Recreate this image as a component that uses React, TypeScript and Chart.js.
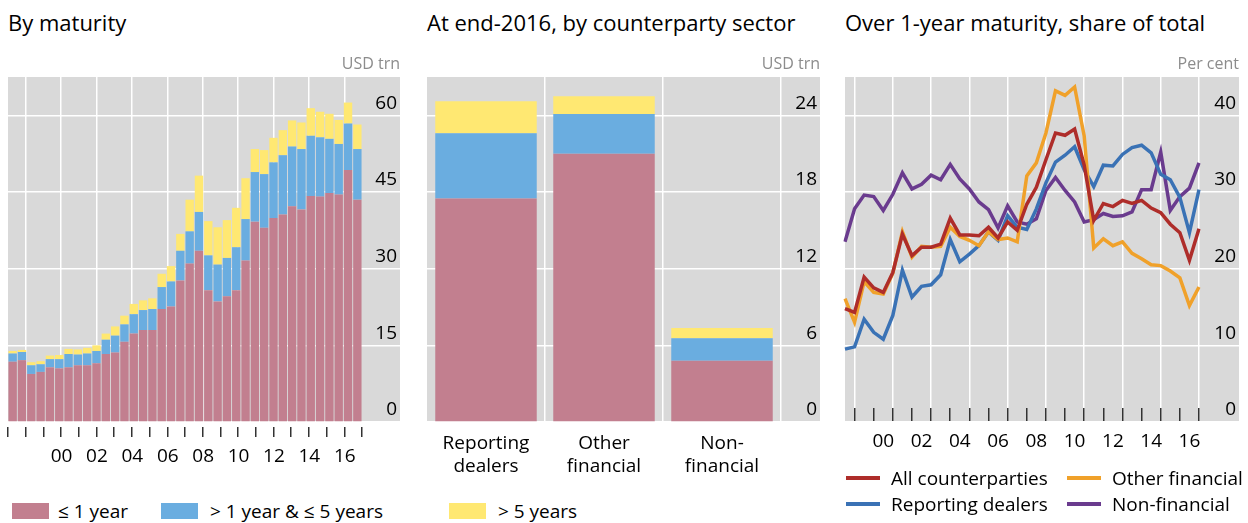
import React, { useEffect, useRef } from 'react';
import { Chart, registerables } from 'chart.js';

Chart.register(...registerables);

const FONT = "'Open Sans', 'Noto Sans', sans-serif";
Chart.defaults.font.family = FONT;

// ---------- data ----------
const periods = [
  'Jun-98', 'Dec-98', 'Jun-99', 'Dec-99', 'Jun-00', 'Dec-00', 'Jun-01', 'Dec-01',
  'Jun-02', 'Dec-02', 'Jun-03', 'Dec-03', 'Jun-04', 'Dec-04', 'Jun-05', 'Dec-05',
  'Jun-06', 'Dec-06', 'Jun-07', 'Dec-07', 'Jun-08', 'Dec-08', 'Jun-09', 'Dec-09',
  'Jun-10', 'Dec-10', 'Jun-11', 'Dec-11', 'Jun-12', 'Dec-12', 'Jun-13', 'Dec-13',
  'Jun-14', 'Dec-14', 'Jun-15', 'Dec-15', 'Jun-16', 'Dec-16',
];

const maturityUpTo1Y = [
  11.8, 12.1, 9.4, 9.8, 10.7, 10.5, 10.7, 11.1, 11.1, 11.5, 13.3, 13.6, 15.7, 17.3, 18.0, 18.0,
  22.1, 22.6, 27.7, 31.0, 33.5, 25.8, 23.6, 24.6, 25.8, 31.6, 39.2, 38.0, 39.9, 40.6, 42.2, 41.6,
  44.2, 44.1, 44.8, 44.5, 49.3, 43.5,
];
const maturity1to5Y = [
  1.6, 1.6, 1.7, 1.5, 1.6, 1.8, 2.6, 2.1, 2.3, 2.4, 2.8, 3.3, 3.4, 3.8, 3.9, 4.1,
  4.3, 4.9, 5.8, 6.3, 7.6, 6.8, 7.2, 7.5, 8.4, 8.1, 9.7, 10.5, 10.9, 11.6, 11.7, 11.8,
  11.8, 11.6, 10.6, 9.9, 9.1, 9.9,
];
const maturityOver5Y = [
  0.5, 0.4, 0.6, 0.6, 0.7, 0.8, 1.0, 1.0, 1.1, 1.1, 1.2, 1.8, 1.7, 2.0, 1.9, 2.1,
  2.6, 3.0, 3.3, 6.2, 7.1, 6.7, 7.3, 7.4, 7.7, 8.0, 4.5, 4.7, 4.8, 4.9, 5.1, 5.2,
  5.4, 5.0, 4.9, 4.7, 4.1, 4.8,
];

const sectors = [['Reporting', 'dealers'], ['Other', 'financial'], ['Non-', 'financial']];
const sectorUpTo1Y = [17.5, 21.0, 4.8];
const sector1to5Y = [5.1, 3.1, 1.75];
const sectorOver5Y = [2.5, 1.4, 0.8];

const shareAll = [
  14.8, 14.3, 18.9, 17.5, 16.9, 19.5, 24.5, 21.7, 22.8, 22.8, 23.2, 26.6, 24.4, 24.4, 24.3, 25.4,
  24.0, 26.1, 25.0, 28.4, 30.6, 34.2, 37.7, 37.4, 38.2, 33.5, 26.3, 28.5, 28.1, 28.9, 28.5, 28.9,
  27.9, 27.3, 25.8, 24.7, 21.1, 25.2,
];
const shareOtherFin = [
  16.1, 13.0, 18.3, 16.9, 16.7, 19.4, 24.8, 21.5, 22.9, 22.8, 22.9, 25.4, 24.2, 23.7, 23.0, 24.8,
  23.8, 24.0, 23.5, 32.1, 33.8, 37.7, 43.2, 42.6, 43.7, 37.3, 22.7, 23.9, 23.0, 23.5, 22.0, 21.3,
  20.5, 20.4, 19.7, 18.8, 15.2, 17.6,
];
const shareDealers = [
  9.5, 9.8, 13.4, 11.7, 10.8, 13.9, 19.8, 16.3, 17.7, 17.9, 19.2, 23.8, 20.9, 21.9, 23.0, 24.8,
  23.7, 26.9, 25.4, 25.1, 27.8, 31.2, 33.9, 34.8, 35.9, 32.9, 30.7, 33.5, 33.4, 34.9, 35.8, 36.1,
  35.1, 32.3, 31.6, 29.3, 24.7, 30.3,
];
const shareNonFin = [
  23.5, 27.8, 29.6, 29.4, 27.6, 29.7, 32.5, 30.4, 31.0, 32.2, 31.6, 33.6, 31.7, 30.4, 28.7, 27.7,
  25.3, 28.2, 26.1, 25.8, 26.5, 30.2, 31.9, 30.2, 28.7, 26.1, 26.4, 27.2, 26.8, 26.9, 27.4, 30.3,
  30.3, 35.2, 27.6, 29.4, 30.5, 33.8,
];

const yearTicks = [
  1998, 1999, 2000, 2001, 2002, 2003, 2004, 2005, 2006, 2007,
  2008, 2009, 2010, 2011, 2012, 2013, 2014, 2015, 2016, 2017,
];
const labelYears = [2000, 2002, 2004, 2006, 2008, 2010, 2012, 2014, 2016];
const ticksByMaturity = [0, 15, 30, 45, 60];
const ticksBySector = [0, 6, 12, 18, 24];
const ticksShare = [0, 10, 20, 30, 40];

// ---------- styles ----------
const PINK = '#C27F8F';
const LBLUE = '#6AADE0';
const YELLOW = '#FFE872';
const GREY = '#D9D9D9';
const RED = '#AE2D2A';
const ORANGE = '#F0A12A';
const DBLUE = '#3A72B5';
const PURPLE = '#6A3B8E';
const TICK_FONT = { size: 19, family: FONT };
const X_AXIS_H = 68;

const greyBg = {
  id: 'greyBg',
  beforeDraw(chart: any) {
    const { ctx, chartArea } = chart;
    const y = chart.scales.y;
    ctx.save();
    ctx.fillStyle = GREY;
    ctx.fillRect(chartArea.left, chartArea.top, y.right - chartArea.left, chartArea.bottom - chartArea.top);
    ctx.restore();
  },
};

const zeroPad = (s: any) => {
  s.paddingTop = 0;
  s.paddingBottom = 0;
  s.paddingLeft = 0;
  s.paddingRight = 0;
};

function valueAxis(max: number, ticks: number[], width: number, stacked: boolean) {
  return {
    position: 'right',
    min: 0,
    max,
    stacked,
    afterBuildTicks: (s: any) => { s.ticks = ticks.map((v) => ({ value: v })); },
    afterFit: (s: any) => { s.width = width; zeroPad(s); },
    border: { display: false },
    grid: { color: '#fff', lineWidth: 1.5, drawTicks: true, tickLength: width, tickColor: '#fff', tickWidth: 1.5 },
    ticks: { mirror: true, padding: width - 3, labelOffset: -12, color: '#000', font: TICK_FONT },
  };
}

function yearAxis(min: number, max: number, tickLength: number, padding: number, labelOffset: number, dash: number[]) {
  return {
    type: 'linear',
    position: 'bottom',
    min,
    max,
    afterBuildTicks: (s: any) => { s.ticks = yearTicks.filter((v) => v >= min && v <= max).map((v) => ({ value: v })); },
    afterFit: (s: any) => { s.height = X_AXIS_H; zeroPad(s); },
    border: { display: false },
    grid: {
      color: (c: any) => (c.tick && c.tick.value % 2 === 1 ? '#fff' : 'rgba(0,0,0,0)'),
      lineWidth: 1.5,
      drawTicks: true,
      tickLength,
      tickColor: '#333',
      tickWidth: 1.5,
      tickBorderDash: dash,
    },
    ticks: {
      autoSkip: false,
      maxRotation: 0,
      padding,
      labelOffset,
      color: '#000',
      font: TICK_FONT,
      callback: (v: any) => (labelYears.includes(v) ? String(v).slice(2) : ''),
    },
  };
}

const common = {
  animation: false,
  responsive: false,
  devicePixelRatio: 1,
  plugins: { legend: { display: false }, tooltip: { enabled: false } },
};

const configMaturity: any = {
  type: 'bar',
  data: {
    labels: periods,
    datasets: [
      { label: '≤ 1 year', data: maturityUpTo1Y, backgroundColor: PINK },
      { label: '> 1 year & ≤ 5 years', data: maturity1to5Y, backgroundColor: LBLUE },
      { label: '> 5 years', data: maturityOver5Y, backgroundColor: YELLOW },
    ],
  },
  options: {
    ...common,
    layout: { padding: { left: 8, top: 7, right: 12, bottom: 0 } },
    datasets: { bar: { barPercentage: 0.9, categoryPercentage: 1 } },
    scales: {
      x: { type: 'category', stacked: true, display: false, offset: true },
      x2: yearAxis(1998, 2017, 15, 8, 9.32, [0, 5, 10, 100]),
      y: valueAxis(67.5, ticksByMaturity, 38, true),
    },
  },
  plugins: [greyBg],
};

const configSector: any = {
  type: 'bar',
  data: {
    labels: sectors,
    datasets: [
      { label: '≤ 1 year', data: sectorUpTo1Y, backgroundColor: PINK },
      { label: '> 1 year & ≤ 5 years', data: sector1to5Y, backgroundColor: LBLUE },
      { label: '> 5 years', data: sectorOver5Y, backgroundColor: YELLOW },
    ],
  },
  options: {
    ...common,
    layout: { padding: { left: 7, top: 7, right: 12, bottom: 0 } },
    datasets: { bar: { barPercentage: 0.86, categoryPercentage: 1 } },
    scales: {
      x: {
        type: 'category',
        stacked: true,
        offset: true,
        afterFit: (s: any) => { s.height = X_AXIS_H; zeroPad(s); },
        border: { display: false },
        grid: {
          offset: true,
          color: (c: any) => (c.index === 0 ? 'rgba(0,0,0,0)' : '#fff'),
          lineWidth: 1.5,
          drawTicks: false,
        },
        ticks: { padding: 10.5, maxRotation: 0, autoSkip: false, color: '#000', font: { size: 19, lineHeight: 1.21, family: FONT } },
      },
      y: valueAxis(27, ticksBySector, 39, true),
    },
  },
  plugins: [greyBg],
};

const lineDs = (label: string, data: number[], color: string) => ({
  label,
  data,
  borderColor: color,
  backgroundColor: color,
  borderWidth: 3.5,
  pointRadius: 0,
  tension: 0,
  fill: false,
});

const configShare: any = {
  type: 'line',
  data: {
    labels: periods,
    datasets: [
      lineDs('All counterparties', shareAll, RED),
      lineDs('Other financial', shareOtherFin, ORANGE),
      lineDs('Reporting dealers', shareDealers, DBLUE),
      lineDs('Non-financial', shareNonFin, PURPLE),
    ],
  },
  options: {
    ...common,
    layout: { padding: { left: 10, top: 7, right: 9, bottom: 0 } },
    scales: {
      x: { type: 'category', display: false, offset: false },
      x2: yearAxis(1998.5, 2017, -14, 22.6, 9.56, []),
      y: valueAxis(45, ticksShare, 40, false),
    },
  },
  plugins: [greyBg],
};

// ---------- components ----------
function ChartCanvas({ config, left, top, width, height }: any) {
  const ref = useRef<HTMLCanvasElement>(null);
  useEffect(() => {
    const chart = new Chart(ref.current as HTMLCanvasElement, config);
    return () => chart.destroy();
  }, []);
  return (
    <canvas
      ref={ref}
      width={width}
      height={height}
      style={{ position: 'absolute', left, top, width, height, display: 'block' }}
    />
  );
}

const textBase: any = { position: 'absolute', fontFamily: FONT, whiteSpace: 'nowrap', color: '#000' };

function Title({ left, children }: any) {
  return <div style={{ ...textBase, left, top: 8, fontSize: 22, lineHeight: '28px' }}>{children}</div>;
}

function Unit({ right, children }: any) {
  return (
    <div style={{ ...textBase, left: right - 200, width: 200, textAlign: 'right', top: 52, fontSize: 16, lineHeight: '22px', color: '#8C8C8C' }}>
      {children}
    </div>
  );
}

function BoxItem({ left, textLeft, cy, color, label }: any) {
  return (
    <>
      <div style={{ position: 'absolute', left, top: cy - 8, width: 37, height: 16, background: color }} />
      <div style={{ ...textBase, left: textLeft, top: cy - 13, fontSize: 19, lineHeight: '26px' }}>{label}</div>
    </>
  );
}

function LineItem({ left, textLeft, cy, color, label }: any) {
  return (
    <>
      <div style={{ position: 'absolute', left, top: cy - 2, width: 34, height: 4, background: color }} />
      <div style={{ ...textBase, left: textLeft, top: cy - 13, fontSize: 19, lineHeight: '26px' }}>{label}</div>
    </>
  );
}

export default function App() {
  return (
    <div style={{ position: 'absolute', left: 0, top: 0, width: 1248, height: 523, background: '#fff', overflow: 'hidden' }}>
      <ChartCanvas config={configMaturity} left={0} top={70} width={412} height={420} />
      <ChartCanvas config={configSector} left={420} top={70} width={412} height={420} />
      <ChartCanvas config={configShare} left={835} top={70} width={413} height={420} />

      <Title left={8}>By maturity</Title>
      <Title left={427}>At end-2016, by counterparty sector</Title>
      <Title left={845}>Over 1-year maturity, share of total</Title>
      <Unit right={400}>USD trn</Unit>
      <Unit right={820}>USD trn</Unit>
      <Unit right={1239}>Per cent</Unit>

      <BoxItem left={12} textLeft={58} cy={511} color={PINK} label="≤ 1 year" />
      <BoxItem left={161} textLeft={210} cy={511} color={LBLUE} label="> 1 year & ≤ 5 years" />
      <BoxItem left={449} textLeft={498} cy={511} color={YELLOW} label="> 5 years" />

      <LineItem left={846} textLeft={891} cy={478} color={RED} label="All counterparties" />
      <LineItem left={1067} textLeft={1112} cy={478} color={ORANGE} label="Other financial" />
      <LineItem left={846} textLeft={891} cy={504} color={DBLUE} label="Reporting dealers" />
      <LineItem left={1067} textLeft={1112} cy={504} color={PURPLE} label="Non-financial" />
    </div>
  );
}
